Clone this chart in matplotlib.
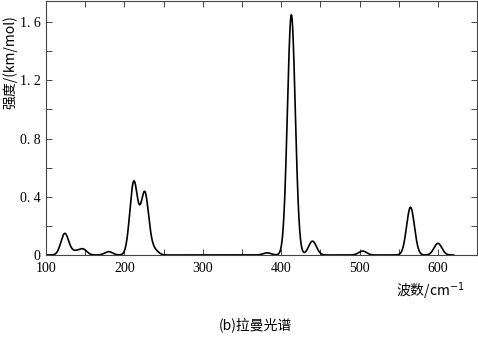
import numpy as np
import matplotlib
matplotlib.use("Agg")
from matplotlib import pyplot as plt
from matplotlib.ticker import MultipleLocator

# computed Raman lines: wavenumber (cm-1) and peak height (km/mol)
centers = [124, 137, 147, 180, 212, 226, 238, 382, 413, 440, 504, 565, 600]
heights = [0.148, 0.022, 0.04, 0.023, 0.50, 0.425, 0.035, 0.015, 1.65, 0.095, 0.027, 0.328, 0.08]
sigma = 5.0  # gaussian broadening

xticks = [100, 200, 300, 400, 500, 600]
yticks = [0, 0.4, 0.8, 1.2, 1.6]
ytick_labels = ["0", "0. 4", "0. 8", "1. 2", "1. 6"]

num_font = "Liberation Serif"
cjk = ["Noto Sans CJK SC", "DejaVu Sans"]

wn = np.linspace(100, 620, 2000)
spec = np.zeros_like(wn)
for c, h in zip(centers, heights):
    spec += h * np.exp(-0.5 * ((wn - c) / sigma) ** 2)

fig = plt.figure(figsize=(4.78, 3.38), dpi=100)
ax = fig.add_axes([0.0962, 0.2456, 0.902, 0.7515])
ax.plot(wn, spec, color="black", lw=1.2)

ax.set_xlim(100, 650)
ax.set_ylim(0, 1.745)
ax.set_xticks(xticks)
ax.set_xticklabels([str(t) for t in xticks], family=num_font, fontsize=10)
ax.set_yticks(yticks)
ax.set_yticklabels(ytick_labels, family=num_font, fontsize=10)
ax.xaxis.set_minor_locator(MultipleLocator(50))
ax.yaxis.set_minor_locator(MultipleLocator(0.2))
ax.tick_params(which="both", direction="in", top=True, right=True,
               length=4, width=0.7, color="#444444")
ax.tick_params(axis="x", pad=5)
ax.tick_params(axis="y", pad=4)
for s in ax.spines.values():
    s.set_linewidth(0.8)
    s.set_color("#444444")

fig.text(0.006, 0.815, "强度/(km/mol)", rotation=90, ha="left", va="center",
         family=cjk, fontsize=10)
fig.text(0.90, 0.139, "波数/cm$^{-1}$", ha="center", va="center",
         family=cjk, fontsize=10)
fig.text(0.534, 0.038, "(b)拉曼光谱", ha="center", va="center",
         family=cjk, fontsize=10)

fig.savefig("out.png", dpi=100)
